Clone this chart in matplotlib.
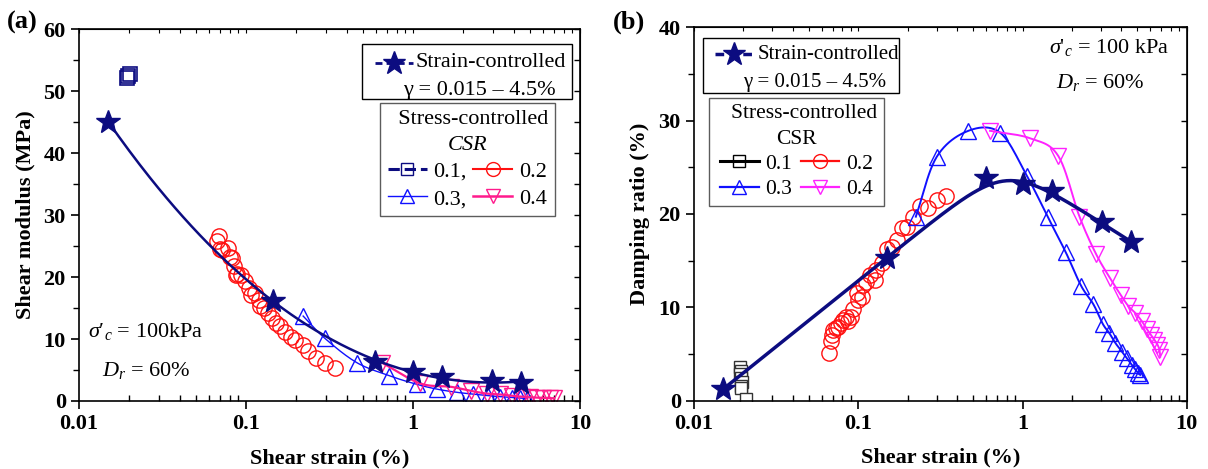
import numpy as np
import matplotlib
matplotlib.use('Agg')
import matplotlib.pyplot as plt
from matplotlib.lines import Line2D
from matplotlib.patches import Rectangle

plt.rcParams['font.family'] = ['Liberation Serif', 'DejaVu Serif']
plt.rcParams['mathtext.fontset'] = 'custom'
plt.rcParams['mathtext.rm'] = 'Liberation Serif'
plt.rcParams['mathtext.it'] = 'Liberation Serif:italic'
plt.rcParams['mathtext.bf'] = 'Liberation Serif:bold'

NAVY = '#0c0c80'
RED = '#ff1010'
BLUE = '#1010ff'
PINK = '#ff1a8c'
MAGENTA = '#ff22ff'

# ---- strain-controlled tests (stars)
strain_g = [0.015, 0.146, 0.59, 1.0, 1.49, 2.96, 4.42]
strain_G = [45.0, 16.2, 6.3, 4.6, 3.9, 3.2, 2.95]
strain_d = [0.015, 0.149, 0.597, 1.0, 1.51, 3.03, 4.56]
strain_D = [1.2, 15.3, 23.8, 23.2, 22.4, 19.1, 17.0]

# ---- stress-controlled, CSR = 0.1
c1_g = [0.0193, 0.0197, 0.0202]
c1_G = [52.1, 52.4, 52.7]
c1_dg = [0.0190, 0.0192, 0.0190, 0.0193, 0.0195, 0.0192, 0.0194, 0.0208]
c1_D = [3.6, 3.2, 2.8, 2.4, 2.0, 1.6, 1.3, 0.2]

# ---- CSR = 0.2
c2_g = [0.0667, 0.0686, 0.0702, 0.0722, 0.0782, 0.0800, 0.0821, 0.0843,
        0.0866, 0.0889, 0.0937, 0.0990, 0.1043, 0.107, 0.113, 0.119, 0.122,
        0.129, 0.136, 0.143, 0.151, 0.159, 0.172, 0.186, 0.197, 0.218,
        0.236, 0.262, 0.299, 0.342]
c2_G = [25.8, 26.6, 24.6, 24.4, 24.7, 23.3, 23.0, 21.7, 20.4, 20.5, 20.4,
        19.3, 18.2, 17.1, 17.4, 16.3, 15.3, 15.0, 14.2, 13.4, 12.6, 12.1,
        11.2, 10.4, 9.9, 9.1, 8.0, 7.0, 6.2, 5.4]
c2_dg = [0.0665, 0.0681, 0.0688, 0.0705, 0.0731, 0.0756, 0.078, 0.081,
         0.0842, 0.087, 0.0899, 0.0932, 0.0978, 0.1, 0.105, 0.107, 0.112,
         0.118, 0.126, 0.129, 0.139, 0.149, 0.16, 0.171, 0.184, 0.199,
         0.214, 0.238, 0.267, 0.30, 0.342]
c2_D = [5.1, 6.4, 7.0, 7.6, 7.75, 7.9, 8.3, 8.65, 9.0, 8.5, 9.0, 9.8, 11.5,
        10.8, 11.1, 12.4, 12.75, 13.5, 12.9, 14.0, 14.7, 16.2, 16.5, 17.2,
        18.5, 18.6, 19.7, 20.8, 20.6, 21.5, 21.9]

# ---- CSR = 0.3
c3_g = [0.220, 0.297, 0.46, 0.718, 1.05, 1.40, 1.83, 2.30, 2.82, 3.32,
        3.9, 4.4, 4.85]
c3_G = [13.7, 10.1, 6.2, 4.1, 2.7, 1.9, 1.4, 1.1, 0.85, 0.7, 0.55, 0.45, 0.4]
c3_dg = [0.224, 0.30, 0.468, 0.73, 1.06, 1.42, 1.83, 2.27, 2.70, 3.08,
         3.38, 3.66, 4.02, 4.31, 4.63, 4.85, 5.07, 5.2]
c3_D = [19.7, 26.1, 28.9, 28.7, 24.1, 19.7, 15.9, 12.3, 10.3, 8.2, 7.2,
        6.2, 5.25, 4.55, 3.8, 3.35, 2.9, 2.75]

# ---- CSR = 0.4
c4_g = [0.65, 1.10, 1.68, 2.24, 2.76, 3.32, 3.9, 4.47, 5.0, 5.5, 6.0, 6.6, 7.0]
c4_G = [6.2, 2.85, 2.3, 1.6, 1.2, 1.05, 0.85, 0.7, 0.6, 0.55, 0.5, 0.45, 0.45]
c4_dg = [0.634, 1.11, 1.65, 2.22, 2.80, 3.41, 3.96, 4.41, 4.84, 5.32,
         5.71, 6.06, 6.35, 6.62, 6.81, 6.88]
c4_D = [28.9, 28.1, 26.2, 19.7, 15.7, 13.1, 11.3, 10.1, 9.4, 8.5, 7.65,
        7.0, 6.5, 6.0, 5.45, 4.7]


def smooth(x, y, n=12):
    """Catmull-Rom curve through the points, in log-x space."""
    p = np.column_stack([np.log10(x), y])
    p = np.vstack([2 * p[0] - p[1], p, 2 * p[-1] - p[-2]])
    t = np.linspace(0, 1, n, endpoint=False)[:, None]
    out = []
    for i in range(1, len(p) - 2):
        p0, p1, p2, p3 = p[i - 1], p[i], p[i + 1], p[i + 2]
        out.append(0.5 * (2 * p1 + (-p0 + p2) * t
                          + (2 * p0 - 5 * p1 + 4 * p2 - p3) * t ** 2
                          + (-p0 + 3 * p1 - 3 * p2 + p3) * t ** 3))
    out.append(p[-2][None])
    out = np.vstack(out)
    return 10 ** out[:, 0], out[:, 1]


def fit_curve(x, y, deg=3):
    """Polynomial fit against log strain."""
    lx = np.log10(x)
    coef = np.polyfit(lx, y, deg)
    xs = np.linspace(lx[0], lx[-1], 200)
    return 10 ** xs, np.polyval(coef, xs)


def peak_curve(x, y, split=0.8, s=2.9):
    """Rising and falling straight fits (log strain) joined by a soft minimum."""
    lx = np.log10(x)
    y = np.asarray(y)
    up = np.polyfit(lx[lx < np.log10(split)], y[lx < np.log10(split)], 1)
    dn = np.polyfit(lx[lx > np.log10(1.2)], y[lx > np.log10(1.2)], 1)
    xs = np.linspace(lx[0], lx[-1], 300)
    a = np.polyval(up, xs)
    b = np.polyval(dn, xs)
    m = np.minimum(a, b)
    ys = m - s * np.log(np.exp(-(a - m) / s) + np.exp(-(b - m) / s))
    return 10 ** xs, ys


def style_axes(ax, ymax, ystep):
    ax.set_xscale('log')
    ax.set_xlim(0.01, 10)
    ax.set_ylim(0, ymax)
    ax.set_yticks(np.arange(0, ymax + 1, ystep))
    ax.set_yticks(np.arange(0, ymax, ystep / 2), minor=True)
    ax.set_xticks([0.01, 0.1, 1, 10])
    ax.set_xticklabels(['0.01', '0.1', '1', '10'])
    ax.tick_params(axis='both', which='major', labelsize=16, width=1.2,
                   length=6, direction='out')
    ax.tick_params(axis='y', which='minor', length=4, width=1.0,
                   direction='out')
    ax.tick_params(axis='x', which='minor', length=4, width=1.0,
                   direction='in')
    for lab in ax.get_xticklabels() + ax.get_yticklabels():
        lab.set_fontweight('bold')
    for s in ax.spines.values():
        s.set_linewidth(1.2)
    # mirrored ticks on the top / right spines
    sec = ax.secondary_yaxis('right')
    sec.set_yticks(np.arange(0, ymax + 1, ystep))
    sec.set_yticks(np.arange(0, ymax, ystep / 2), minor=True)
    sec.tick_params(which='both', direction='in', labelright=False,
                    length=4, width=1.0)
    secx = ax.secondary_xaxis('top')
    secx.tick_params(which='both', direction='in', labeltop=False,
                     length=3, width=0.8)
    secx.set_xticks([0.01, 0.1, 1, 10])


def strain_box(ax, box, handle, y1, x1, x2, y2, size, lw):
    """Framed key for the strain-controlled series (axes fraction coords)."""
    x0, y0, w, h = box
    ax.add_patch(Rectangle((x0, y0), w, h, transform=ax.transAxes,
                           facecolor='white', edgecolor='black', lw=1.0,
                           zorder=5, clip_on=False))
    hx0, hx1 = handle
    ax.add_line(Line2D([hx0, hx1], [y1, y1], transform=ax.transAxes,
                       color=NAVY, lw=lw, ls=(0, (2.5, 1.5)), zorder=6,
                       clip_on=False))
    ax.add_line(Line2D([(hx0 + hx1) / 2], [y1], transform=ax.transAxes,
                       color=NAVY, marker='*', ms=17, ls='none', zorder=7,
                       clip_on=False))
    ax.text(x1, y1, 'Strain-controlled', transform=ax.transAxes,
            fontsize=size, va='center', zorder=7)
    ax.text(x2, y2, '\u03b3 = 0.015 \u2013 4.5%', transform=ax.transAxes,
            fontsize=size, va='center', zorder=7)


def box_legend(ax, handles, labels, anchor, size, **kw):
    leg = ax.legend(handles, labels, loc='upper left', bbox_to_anchor=anchor,
                    fontsize=size, frameon=True, fancybox=False,
                    edgecolor='#333333', borderaxespad=0, **kw)
    leg.get_frame().set_linewidth(1.0)
    leg.get_title().set_multialignment('center')
    leg.get_title().set_linespacing(1.5)
    return leg


fig = plt.figure(figsize=(12.08, 4.69), dpi=100)
ax1 = fig.add_axes([0.0654, 0.145, 0.4147, 0.793])
ax2 = fig.add_axes([0.5745, 0.146, 0.408, 0.796])

MS = 11

# ================= (a) shear modulus
ax1.plot(c1_g, c1_G, ls='none', marker='s', ms=10, mfc='none', mec=NAVY,
         mew=1.2)
ax1.plot(c2_g, c2_G, ls='none', marker='o', ms=MS, mfc='none', mec=RED,
         mew=1.0)
sx, sy = smooth(c3_g, c3_G)
ax1.plot(sx, sy, color=BLUE, lw=1.0)
ax1.plot(c3_g, c3_G, ls='none', marker='^', ms=MS, mfc='none', mec=BLUE,
         mew=1.0)
sx, sy = smooth(c4_g, c4_G)
ax1.plot(sx, sy, color=PINK, lw=1.6)
ax1.plot(c4_g, c4_G, ls='none', marker='v', ms=MS, mfc='none', mec=PINK,
         mew=1.0)
fx, fy = fit_curve(strain_g, strain_G)
ax1.plot(fx, fy, color=NAVY, lw=1.8)
ax1.plot(strain_g, strain_G, ls='none', marker='*', ms=18, color=NAVY)

style_axes(ax1, 60, 10)
ax1.set_xlabel('Shear strain (%)', fontsize=16, fontweight='bold', labelpad=10)
ax1.set_ylabel('Shear modulus (MPa)', fontsize=16, fontweight='bold',
               labelpad=6)

strain_box(ax1, (0.565, 0.812, 0.419, 0.148), (0.591, 0.667), 0.909,
           0.671, 0.647, 0.836, 16, 2.0)

hs = [Line2D([], [], color=NAVY, ls='--', lw=2.2, marker='s', ms=9,
             mfc='none', mec=NAVY),
      Line2D([], [], color=BLUE, lw=1.0, marker='^', ms=10, mfc='none',
             mec=BLUE),
      Line2D([], [], color=RED, lw=1.5, marker='o', ms=10, mfc='none',
             mec=RED),
      Line2D([], [], color=PINK, lw=1.8, marker='v', ms=10, mfc='none',
             mec=PINK)]
box_legend(ax1, hs, ['0.1,', '0.3,', '0.2', '0.4'], (0.601, 0.801), 16,
           ncol=2, title='  Stress-controlled\n$\\mathit{CSR}$',
           title_fontsize=16, handlelength=1.75, handletextpad=0.3,
           columnspacing=0.3, borderpad=0.3, labelspacing=0.3)

ax1.text(0.017, 0.188, "$\\sigma$\u2032$_{c}$ = 100kPa", transform=ax1.transAxes,
         fontsize=16, va='center')
ax1.text(0.045, 0.083, "$D_r$ = 60%", transform=ax1.transAxes, fontsize=16,
         va='center')
fig.text(0.006, 0.94, '(a)', fontsize=19, fontweight='bold')

# ================= (b) damping ratio
ax2.plot(c1_dg, c1_D, ls='none', marker='s', ms=8, mfc='white', mec='#333333',
         mew=1.0)
ax2.plot(c2_dg, c2_D, ls='none', marker='o', ms=MS, mfc='none', mec=RED,
         mew=1.0)
sx, sy = smooth(c3_dg, c3_D)
ax2.plot(sx, sy, color=BLUE, lw=1.4)
ax2.plot(c3_dg, c3_D, ls='none', marker='^', ms=MS, mfc='none', mec=BLUE,
         mew=1.0)
sx, sy = smooth(c4_dg, c4_D)
ax2.plot(sx, sy, color=MAGENTA, lw=1.4)
ax2.plot(c4_dg, c4_D, ls='none', marker='v', ms=MS, mfc='none', mec=MAGENTA,
         mew=1.0)
fx, fy = peak_curve(strain_d, strain_D)
ax2.plot(fx, fy, color=NAVY, lw=2.5)
ax2.plot(strain_d, strain_D, ls='none', marker='*', ms=18, color=NAVY)

style_axes(ax2, 40, 10)
ax2.set_xlabel('Shear strain (%)', fontsize=16, fontweight='bold', labelpad=10)
ax2.set_ylabel('Damping ratio (%)', fontsize=16, fontweight='bold',
               labelpad=6)

strain_box(ax2, (0.018, 0.824, 0.398, 0.148), (0.043, 0.118), 0.927,
           0.130, 0.099, 0.851, 15, 2.5)

hs2 = [Line2D([], [], color='black', lw=2.2, marker='s', ms=8, mfc='none',
              mec='black'),
       Line2D([], [], color=BLUE, lw=1.6, marker='^', ms=10, mfc='none',
              mec=BLUE),
       Line2D([], [], color=RED, lw=1.6, marker='o', ms=10, mfc='none',
              mec=RED),
       Line2D([], [], color=MAGENTA, lw=1.6, marker='v', ms=10, mfc='none',
              mec=MAGENTA)]
leg4 = box_legend(ax2, hs2, ['0.1', '0.3', '0.2', '0.4'], (0.030, 0.811),
                  15.5, ncol=2, title='   Stress-controlled\nCSR',
                  title_fontsize=15.5, handlelength=1.8, handletextpad=0.3,
                  columnspacing=0.4, borderpad=0.3, labelspacing=0.25)
leg4.get_title().set_linespacing(1.45)

ax2.text(0.72, 0.945, "$\\sigma$'$_{c}$ = 100 kPa", transform=ax2.transAxes,
         fontsize=16, va='center')
ax2.text(0.735, 0.851, "$D_r$ = 60%", transform=ax2.transAxes, fontsize=16,
         va='center')
fig.text(0.507, 0.94, '(b)', fontsize=19, fontweight='bold')

fig.savefig('out.png', dpi=100)
